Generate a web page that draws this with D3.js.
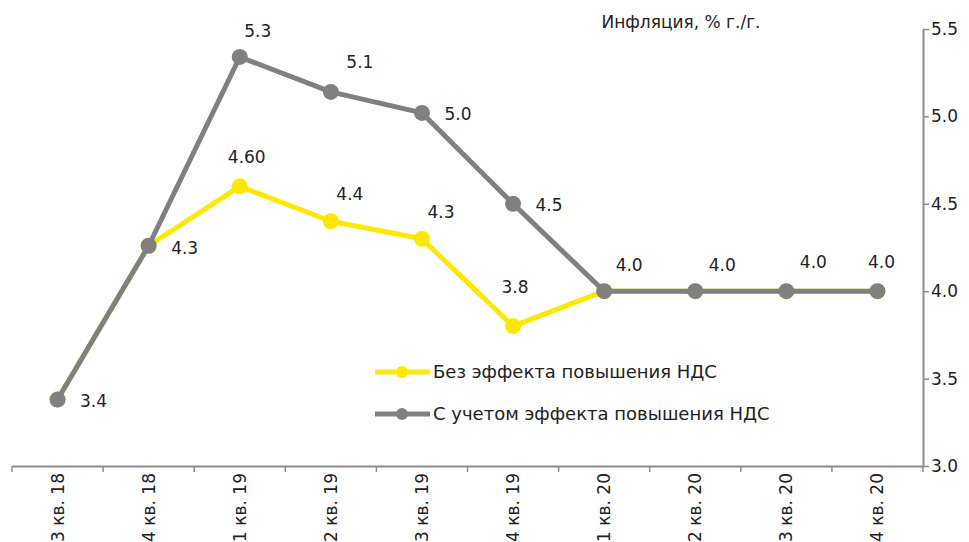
<!DOCTYPE html>
<html>
<head>
<meta charset="utf-8">
<script src="https://cdn.jsdelivr.net/npm/d3@7"></script>
<style>
  body { margin: 0; background: #fff; }
  svg { font-family: "DejaVu Sans", sans-serif; }
</style>
</head>
<body>
<div id="container"></div>
<script>
/* DATA */
const quarters = ["3 кв. 18", "4 кв. 18", "1 кв. 19", "2 кв. 19", "3 кв. 19",
                  "4 кв. 19", "1 кв. 20", "2 кв. 20", "3 кв. 20", "4 кв. 20"]
const withoutVat = [3.38, 4.26, 4.60, 4.40, 4.30, 3.80, 4.00, 4.00, 4.00, 4.00]
const withVat    = [3.38, 4.26, 5.34, 5.14, 5.02, 4.50, 4.00, 4.00, 4.00, 4.00]
const withoutVatLabels = [null, null, "4.60", "4.4", "4.3", "3.8", null, null, null, null]
const withVatLabels    = ["3.4", "4.3", "5.3", "5.1", "5.0", "4.5", "4.0", "4.0", "4.0", "4.0"]
const yTicks = [3.0, 3.5, 4.0, 4.5, 5.0, 5.5]
const seriesNames = ["Без эффекта повышения НДС", "С учетом эффекта повышения НДС"]
const axisTitle = "Инфляция, % г./г."

/* CONSTANTS */
const width = 969, height = 542
const plotLeft = 12, plotRight = 923, plotTop = 29, plotBottom = 466
const yellow = "#FFE800", grey = "#808080", axisColor = "#8c8c8c"

// hand-placed label offsets (dx, dy from point), like in the original
const offYellow = [null, null, [7, -29], [19, -27], [19, -27], [2, -39], null, null, null, null]
const offGrey = [[36, 1], [36, 2], [18, -26], [29, -30], [36, 1], [36, 1], [25, -26], [27, -26], [27, -29], [4, -29]]

const svg = d3.select("#container")
  .append("svg")
  .attr("width", width)
  .attr("height", height)

// SCALES
const xScale = d3.scaleBand()
  .domain(quarters)
  .range([plotLeft, plotRight])

const yScale = d3.scaleLinear()
  .domain([3, 5.5])
  .range([plotBottom, plotTop])

const cx = d => xScale(d) + xScale.bandwidth() / 2

// AXES
const xAxis = d3.axisBottom(xScale).tickSize(0).tickSizeOuter(0)
const gx = svg.append("g")
  .attr("class", "xAxis")
  .attr("transform", `translate(0, ${plotBottom})`)
  .call(xAxis)
gx.select(".domain").attr("stroke", axisColor).attr("stroke-width", 2)
gx.selectAll(".tick text")
  .attr("transform", "rotate(-90)")
  .attr("text-anchor", "end")
  .attr("x", -7)
  .attr("y", 0)
  .attr("dy", "0.35em")
  .attr("font-size", 17)
  .attr("fill", "#222")
  .attr("font-family", "DejaVu Sans")
// tick marks between categories
gx.selectAll(".edge")
  .data(quarters.concat([null]))
  .join("line")
  .attr("class", "edge")
  .attr("x1", d => d === null ? plotRight : xScale(d))
  .attr("x2", d => d === null ? plotRight : xScale(d))
  .attr("y1", 0)
  .attr("y2", 6)
  .attr("stroke", axisColor)
  .attr("stroke-width", 1.5)

const yAxis = d3.axisRight(yScale)
  .tickValues(yTicks)
  .tickFormat(d3.format(".1f"))
  .tickSize(6)
  .tickSizeOuter(0)
const gy = svg.append("g")
  .attr("class", "yAxis")
  .attr("transform", `translate(${plotRight}, 0)`)
  .call(yAxis)
gy.select(".domain").attr("stroke", axisColor).attr("stroke-width", 2)
gy.selectAll(".tick line").attr("stroke", axisColor).attr("stroke-width", 1.5)
gy.selectAll(".tick text")
  .attr("x", 8)
  .attr("font-size", 17)
  .attr("fill", "#222")
  .attr("font-family", "DejaVu Sans")

svg.append("text")
  .attr("x", 681)
  .attr("y", 28)
  .attr("text-anchor", "middle")
  .attr("font-size", 17)
  .attr("fill", "#222")
  .text(axisTitle)

// LINES
const lineGen = d3.line()
  .x((d, i) => cx(quarters[i]))
  .y(d => yScale(d))

const series = [
  { values: withoutVat, color: yellow, labels: withoutVatLabels, off: offYellow },
  { values: withVat, color: grey, labels: withVatLabels, off: offGrey }
]

series.forEach((s, k) => {
  svg.append("path")
    .attr("fill", "none")
    .attr("stroke", s.color)
    .attr("stroke-width", 5)
    .attr("stroke-linejoin", "round")
    .attr("d", lineGen(s.values))
  svg.selectAll(".pt" + k)
    .data(s.values)
    .join("circle")
    .attr("class", "pt" + k)
    .attr("cx", (d, i) => cx(quarters[i]))
    .attr("cy", d => yScale(d))
    .attr("r", 8)
    .attr("fill", s.color)
})

// DATA LABELS
series.forEach((s, k) => {
  svg.selectAll(".lbl" + k)
    .data(s.values.map((v, i) => ({ v, i, t: s.labels[i], o: s.off[i] })).filter(d => d.t))
    .join("text")
    .attr("class", "lbl" + k)
    .attr("x", d => cx(quarters[d.i]) + d.o[0])
    .attr("y", d => yScale(d.v) + d.o[1])
    .attr("dy", "0.35em")
    .attr("text-anchor", "middle")
    .attr("font-size", 17)
    .attr("fill", "#222")
    .text(d => d.t)
})

// LEGEND
const legend = svg.append("g").attr("transform", "translate(375, 372)")
seriesNames.forEach((name, i) => {
  const g = legend.append("g").attr("transform", `translate(0, ${i * 42})`)
  g.append("line")
    .attr("x1", 0).attr("x2", 55)
    .attr("stroke", i === 0 ? yellow : grey)
    .attr("stroke-width", 5)
  g.append("circle")
    .attr("cx", 27).attr("r", 6)
    .attr("fill", i === 0 ? yellow : grey)
  g.append("text")
    .attr("x", 58)
    .attr("dy", "0.35em")
    .attr("font-size", 18)
    .attr("fill", "#222")
    .text(name)
})
</script>
</body>
</html>
